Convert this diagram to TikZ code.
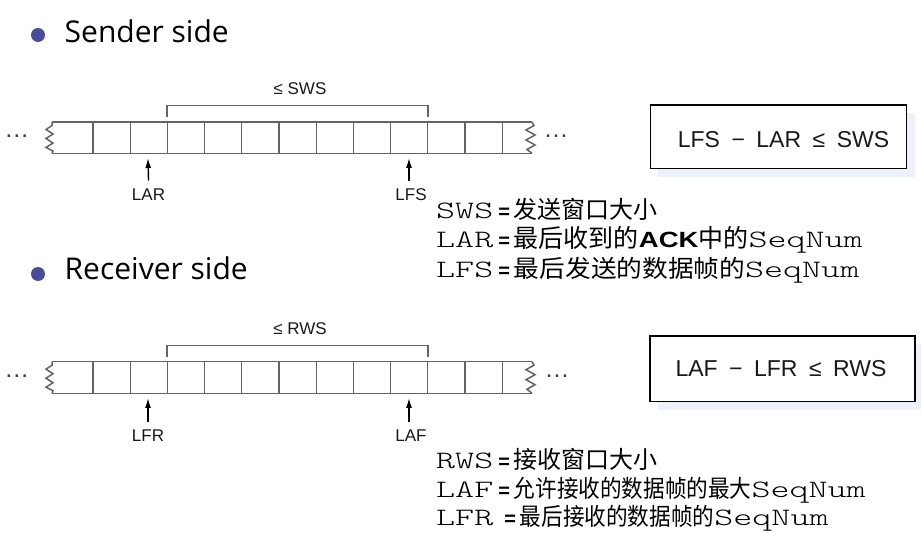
\documentclass[tikz,border=0pt]{standalone}
\usepackage{fontspec}
\usetikzlibrary{arrows.meta}
\newfontfamily\titlefont{Open Sans}
\newfontfamily\labelfont{Liberation Sans}
\newfontfamily\ackfont[FakeStretch=1.25]{Liberation Sans}
\newfontfamily\codefont[FakeStretch=1.45]{lmmonolt10-regular.otf}
\newfontfamily\cjkfont{Noto Sans CJK SC}
\newfontfamily\cjkwide[FakeStretch=1.07]{Noto Sans CJK SC}
\newfontfamily\cjknarrow[FakeStretch=0.9]{Noto Sans CJK SC}
\definecolor{bulletblue}{RGB}{75,75,155}
\definecolor{stripgray}{RGB}{100,100,100}
\definecolor{shadowblue}{RGB}{237,241,251}
\newcommand{\codetxt}[1]{{\codefont\fontsize{25}{30}\selectfont #1}}
\newcommand{\eqs}{{\labelfont\bfseries\fontsize{20}{24}\selectfont\hspace{5pt}=\hspace{4pt}}}
\newcommand{\gap}{\hspace{11.5pt}}

\begin{document}
\begin{tikzpicture}[x=1pt,y=-1pt,
  strip/.style={draw=stripgray,line width=1.5pt,line join=miter},
  cellline/.style={draw=stripgray,line width=1.3pt},
  bracket/.style={draw=stripgray,line width=1.3pt},
  pointer/.style={-{Latex[length=10pt,width=6pt]},line width=1.4pt},
  bullet/.style={circle,fill=bulletblue,minimum size=14pt,inner sep=0pt},
  title/.style={anchor=base west,inner sep=0pt,font=\titlefont\fontsize{30}{36}\selectfont},
  winlabel/.style={anchor=base,inner sep=0pt,text=black!90,font=\labelfont\fontsize{17}{20}\selectfont},
  seqlabel/.style={winlabel,outer ysep=8.3pt},
  more/.style={anchor=base,inner sep=0pt,text=black!75,font=\labelfont\fontsize{25}{30}\selectfont},
  rulebox/.style={draw=black,line width=1.1pt,fill=white,inner sep=0pt},
  rule/.style={anchor=base,inner sep=0pt,text=black!90,font=\labelfont\fontsize{23}{27}\selectfont},
  defline/.style={anchor=base west,inner sep=0pt,font=\fontsize{24}{29}\selectfont}]
\useasboundingbox (0,0) rectangle (921,534);

% sender side
\node[bullet] (senderdot) at (38,35) {};
\node[title] (sender) at (64.5,43) {Sender side};

\draw[strip] (52,122) -- (532,122);
\draw[strip] (52,153.3) -- (532,153.3);
\draw[strip] (52,122) -- (52,125.5) -- (46,129.5) -- (53,134) -- (46,138.5) -- (53,143) -- (46,147.5) -- (53,151) -- (52,153.3);
\draw[strip] (532,122) -- (534,125.5) -- (526,130) -- (535,135) -- (526,140) -- (535,145) -- (527,149.5) -- (532,153.3);
\foreach \k in {0,...,11}
  \draw[cellline] ({93+37.2*\k},122) -- ({93+37.2*\k},153.3);
\node[more] (sleft) at (17,137.3) {…};
\node[more] (sright) at (556,137.3) {…};

\draw[bracket] (167,116.7) -- (167,105.7) -- (428,105.7) -- (428,116.7);
\node[winlabel] (sws) at (300,95) {≤ SWS};

\coordinate (lartip) at (148,158);
\coordinate (lfstip) at (409,158);
\node[seqlabel] (lar) at (148.5,200.7) {LAR};
\node[seqlabel] (lfs) at (411,200.7) {LFS};
\draw[pointer] (lar.north) -- (lartip);
\draw[pointer] ([xshift=-2pt]lfs.north) -- (lfstip);

\fill[shadowblue] (658,113) rectangle (915,176.7);
\node[rulebox,minimum width=256pt,minimum height=63.3pt] (senderbox) at (778.7,136.7) {};
\node[rule] (senderrule) at (783.5,147.3) {LFS\gap−\gap LAR\gap≤\gap SWS};

\node[defline] (swsdef) at (436,219) {\codetxt{SWS}\eqs{\cjkfont 发送窗口大小}};
\node[defline] (lardef) at (436,248) {\codetxt{LAR}\eqs{\fontsize{25}{30}\selectfont\cjkfont 最后收到的}{\ackfont\bfseries\fontsize{22}{26}\selectfont ACK}{\fontsize{25}{30}\selectfont\cjkfont 中的}\codetxt{SeqNum}};
\node[defline] (lfsdef) at (436,278) {\codetxt{LFS}\eqs{\cjkwide 最后发送的数据帧的}\codetxt{SeqNum}};

% receiver side
\node[bullet] (receiverdot) at (38,274) {};
\node[title] (receiver) at (64.5,280) {Receiver side};

\draw[strip] (52,361.7) -- (532,361.7);
\draw[strip] (52,393.3) -- (532,393.3);
\draw[strip] (52,361.7) -- (52,365.2) -- (46,369.2) -- (53,373.7) -- (46,378.2) -- (53,382.7) -- (46,387.2) -- (53,390.7) -- (52,393.3);
\draw[strip] (532,361.7) -- (534,365.2) -- (526,369.7) -- (535,374.7) -- (526,379.7) -- (535,384.7) -- (527,389.2) -- (532,393.3);
\foreach \k in {0,...,11}
  \draw[cellline] ({93+37.2*\k},361.7) -- ({93+37.2*\k},393.3);
\node[more] (rleft) at (17,377.3) {…};
\node[more] (rright) at (557,377.3) {…};

\draw[bracket] (167,356.7) -- (167,345.7) -- (428,345.7) -- (428,356.7);
\node[winlabel] (rws) at (300,335) {≤ RWS};

\coordinate (lfrtip) at (148,398);
\coordinate (laftip) at (409,398);
\node[seqlabel] (lfr) at (148,441.7) {LFR};
\node[seqlabel] (laf) at (411,441.7) {LAF};
\draw[pointer] (lfr.north) -- (lfrtip);
\draw[pointer] ([xshift=-2pt]laf.north) -- (laftip);

\fill[shadowblue] (658,344) rectangle (923,410);
\node[rulebox,minimum width=265pt,minimum height=65.7pt] (receiverbox) at (782.5,368.85) {};
\node[rule] (receiverrule) at (781,376.7) {LAF\gap−\gap LFR\gap≤\gap RWS};

\node[defline] (rwsdef) at (436,468) {\codetxt{RWS}\eqs{\cjkfont 接收窗口大小}};
\node[defline] (lafdef) at (436,497) {\codetxt{LAF}\eqs{\cjknarrow 允许接收的数据帧的最大}\codetxt{SeqNum}};
\node[defline] (lfrdef) at (436,525) {\codetxt{LFR}\hspace{6pt}\eqs{\cjknarrow 最后接收的数据帧的}\codetxt{SeqNum}};
\end{tikzpicture}
\end{document}
